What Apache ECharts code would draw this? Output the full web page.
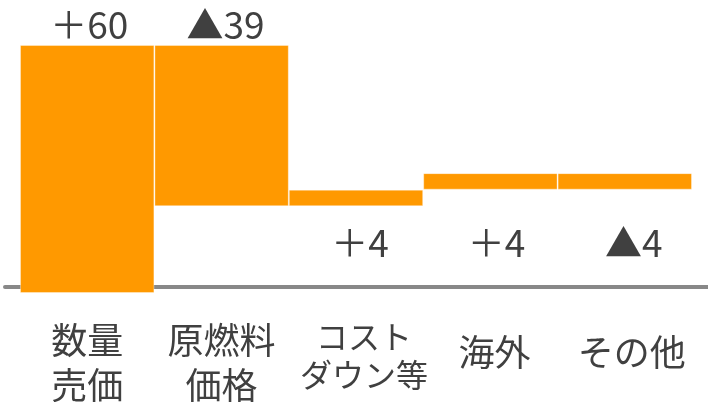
<!DOCTYPE html>
<html>
<head>
<meta charset="utf-8">
<style>
  html, body { margin: 0; padding: 0; background: #fff; }
  #chart { width: 708px; height: 402px; }
</style>
<script src="https://cdn.jsdelivr.net/npm/echarts@6/dist/echarts.min.js"></script>
</head>
<body>
<div id="chart"></div>
<script>
// Factors behind the change in operating profit (waterfall)
const categories = ['数量\n売価', '原燃料\n価格', 'コスト\nダウン等', '海外', 'その他'];
const changes = [60, -39, 4, 4, -4];

// Which value labels sit above their bar (the rest sit in a row below the steps)
const labelAbove = [true, true, false, false, false];

// Small horizontal nudges for the text under / over each bar
const categoryNudge = [0, 0, 8, 4, 7];
const valueNudge = [2, 4, 4, 6, 9];

// Running total: invisible base + visible step for each factor
const baseValues = [];
const stepValues = [];
let total = 0;
changes.forEach(function (v) {
  if (v >= 0) {
    baseValues.push(total);
    total += v;
  } else {
    total += v;
    baseValues.push(total);
  }
  stepValues.push(Math.abs(v));
});

function fmt(v) {
  return v >= 0 ? '＋' + v : '▲' + (-v);
}

const FONT = '"Noto Sans CJK JP", "Noto Sans", sans-serif';
const TEXT = '#404040';
const ORANGE = '#FF9900';

const axisData = categories.map(function (c, i) {
  const item = { value: c, textStyle: { padding: [0, 0, 0, categoryNudge[i] * 2] } };
  if (c.indexOf('\n') < 0) {
    item.textStyle.lineHeight = 68;
  }
  if (i === 2) {
    item.textStyle.fontSize = 32;
    item.textStyle.lineHeight = 38;
  }
  return item;
});

const chart = echarts.init(document.getElementById('chart'), null, { renderer: 'canvas' });

chart.setOption({
  animation: false,
  backgroundColor: '#fff',
  grid: [
    { left: 20, right: 16, top: 45, bottom: 109, outerBoundsMode: 'none', containLabel: false },
    { left: 5, right: 0, top: 45, bottom: 115, outerBoundsMode: 'none', containLabel: false }
  ],
  xAxis: [
    {
      type: 'category',
      gridIndex: 0,
      data: axisData,
      axisLine: { show: false },
      axisTick: { show: false },
      axisLabel: {
        margin: 25,
        interval: 0,
        color: TEXT,
        fontFamily: FONT,
        fontSize: 36,
        lineHeight: 45
      }
    },
    {
      type: 'value',
      gridIndex: 1,
      min: 0,
      max: 1,
      axisLine: { show: true, onZero: false, lineStyle: { color: '#888888', width: 4 } },
      axisTick: { show: false },
      axisLabel: { show: false },
      splitLine: { show: false }
    }
  ],
  yAxis: [
    { type: 'value', gridIndex: 0, min: 0, max: 60, show: false },
    { type: 'value', gridIndex: 1, min: 0, max: 1, show: false }
  ],
  series: [
    {
      name: 'base',
      type: 'bar',
      stack: 'wf',
      barWidth: '100%',
      barCategoryGap: 0,
      itemStyle: { color: 'transparent' },
      data: baseValues.map(function (b, i) {
        return {
          value: b,
          label: {
            show: !labelAbove[i],
            position: 'insideBottom',
            distance: 32,
            offset: [valueNudge[i], 0],
            formatter: fmt(changes[i]),
            color: TEXT,
            fontFamily: FONT,
            fontSize: 37
          }
        };
      }),
      z: 3
    },
    {
      name: 'step',
      type: 'bar',
      stack: 'wf',
      barWidth: '100%',
      barCategoryGap: 0,
      itemStyle: {
        color: ORANGE,
        borderColor: 'rgba(255,255,255,0.35)',
        borderWidth: 1
      },
      data: stepValues.map(function (s, i) {
        return {
          value: s,
          label: {
            show: labelAbove[i],
            position: 'top',
            distance: 2,
            offset: [valueNudge[i], 0],
            formatter: fmt(changes[i]),
            color: TEXT,
            fontFamily: FONT,
            fontSize: 37
          }
        };
      }),
      z: 3
    }
  ]
});
</script>
</body>
</html>
